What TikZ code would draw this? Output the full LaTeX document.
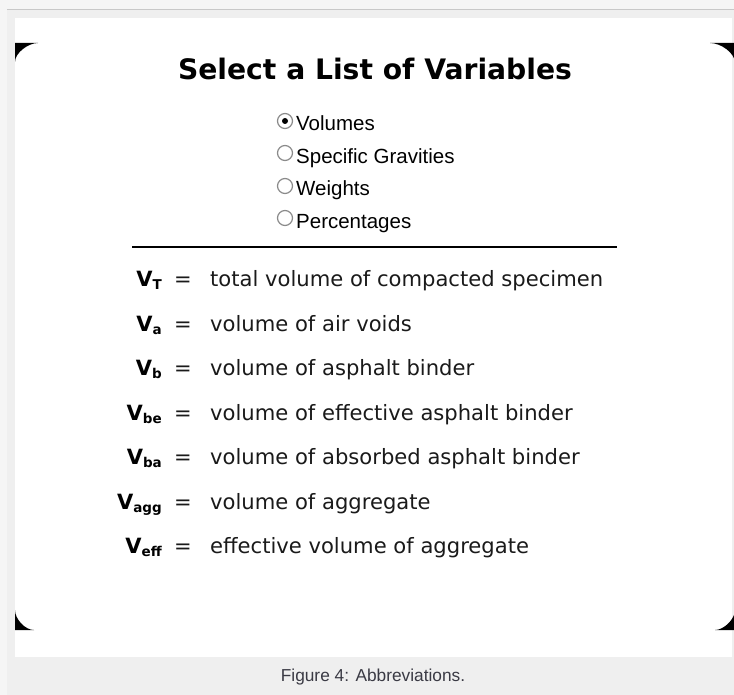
\documentclass[tikz,border=0pt]{standalone}
\usepackage{fontspec}
\setmainfont{DejaVu Sans}
\newfontfamily\verd{DejaVu Sans}
\newfontfamily\arialf{Liberation Sans}
\definecolor{bgA}{HTML}{F5F5F5}
\definecolor{bgB}{HTML}{EFEFEF}
\definecolor{topline}{HTML}{C8C8C8}
\definecolor{radiogray}{HTML}{8A8A8A}
\definecolor{txt}{HTML}{1A1A1A}
\definecolor{capt}{HTML}{3A3A44}
\tikzset{
  corner/.style={fill=black},
  radio/.style={draw=radiogray, fill=white, line width=1.2pt},
  radiolbl/.style={font=\arialf\fontsize{20.5}{20.5}\selectfont, anchor=base west, inner sep=0pt, text=black},
  symlbl/.style={font=\verd\bfseries\fontsize{21}{21}\selectfont, anchor=base east, inner sep=0pt, text=black},
  eqlbl/.style={font=\verd\fontsize{21}{21}\selectfont, anchor=base, inner sep=0pt, text=txt},
  deflbl/.style={font=\verd\fontsize{21.1}{21.1}\selectfont, anchor=base west, inner sep=0pt, text=txt},
}
\newcommand{\vsym}[1]{V\raisebox{-3pt}{\fontsize{13.5}{13.5}\selectfont #1}}
\begin{document}
\begin{tikzpicture}[x=1pt,y=-1pt]
\useasboundingbox (0,0) rectangle (734,695);
\clip (0,0) rectangle (734,695);
% backgrounds
\fill[bgA] (0,0) rectangle (734,695);
\fill[bgB] (7,9) rectangle (734,695);
\draw[topline, line width=1.2pt] (7,9.5) -- (734,9.5);
\fill[white] (15,18) rectangle (732,657);
% black corner masks
\fill[corner] (15,43) -- (38,43) .. controls (28,43) and (15,53) .. (15,62) -- cycle;
\fill[corner] (735,43) -- (710,43) .. controls (721,43) and (735,53) .. (735,63) -- cycle;
\fill[corner] (15,630) -- (15,610) .. controls (15,619) and (25,630) .. (34,630) -- cycle;
\fill[corner] (735,630) -- (735,610) .. controls (735,619) and (724,630) .. (715,630) -- cycle;
% title
\node[font=\verd\bfseries\fontsize{28.2}{28.2}\selectfont, anchor=base, inner sep=0pt] (title) at (375,79.5) {Select a List of Variables};
% radio buttons
\draw[radio] (285,121) circle[radius=7.5pt];
\fill[black] (285,121) circle[radius=3pt];
\draw[radio] (285,153) circle[radius=7.5pt];
\draw[radio] (285,186) circle[radius=7.5pt];
\draw[radio] (285,218) circle[radius=7.5pt];
\node[radiolbl] (r1) at (296,131) {Volumes};
\node[radiolbl] (r2) at (296,163.5) {Specific Gravities};
\node[radiolbl] (r3) at (296,196) {Weights};
\node[radiolbl] (r4) at (296,228.5) {Percentages};
% rule
\draw[line width=1.6pt] (132,247) -- (617,247);
% definitions
\node[symlbl] (s1) at (162,287) {\vsym{T}};
\node[eqlbl] (e1) at (183,287) {=};
\node[deflbl] (d1) at (210,287) {total volume of compacted specimen};
\node[symlbl] (s2) at (162,331.4) {\vsym{a}};
\node[eqlbl] (e2) at (183,331.4) {=};
\node[deflbl] (d2) at (210,331.4) {volume of air voids};
\node[symlbl] (s3) at (162,375.8) {\vsym{b}};
\node[eqlbl] (e3) at (183,375.8) {=};
\node[deflbl] (d3) at (210,375.8) {volume of asphalt binder};
\node[symlbl] (s4) at (162,420.2) {\vsym{be}};
\node[eqlbl] (e4) at (183,420.2) {=};
\node[deflbl] (d4) at (210,420.2) {volume of effective asphalt binder};
\node[symlbl] (s5) at (162,464.6) {\vsym{ba}};
\node[eqlbl] (e5) at (183,464.6) {=};
\node[deflbl] (d5) at (210,464.6) {volume of absorbed asphalt binder};
\node[symlbl] (s6) at (162,509) {\vsym{agg}};
\node[eqlbl] (e6) at (183,509) {=};
\node[deflbl] (d6) at (210,509) {volume of aggregate};
\node[symlbl] (s7) at (162,553.4) {\vsym{eff}};
\node[eqlbl] (e7) at (183,553.4) {=};
\node[deflbl] (d7) at (210,553.4) {effective volume of aggregate};
% caption
\node[font=\arialf\fontsize{17.3}{17.3}\selectfont, text=capt, anchor=base, inner sep=0pt] (cap) at (373,681) {Figure 4: Abbreviations.};
\end{tikzpicture}
\end{document}
